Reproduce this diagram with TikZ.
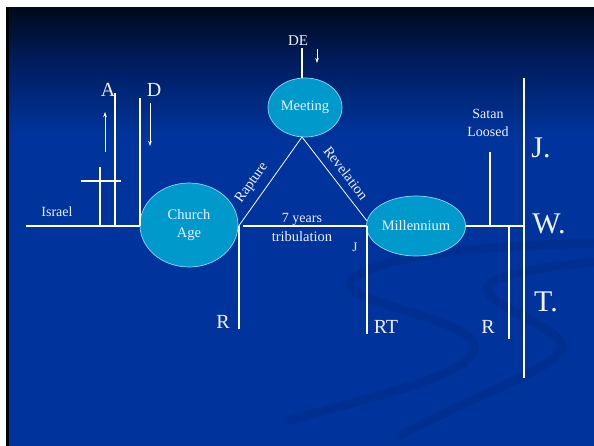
\documentclass[tikz,border=0pt]{standalone}
\usepackage{fontspec}
\setmainfont{Liberation Serif}
\usetikzlibrary{shapes.geometric,arrows.meta}
\definecolor{bgblue}{HTML}{00349C}
\definecolor{bgmid}{HTML}{001C5C}
\definecolor{bgtop}{HTML}{000A1C}
\definecolor{swoosh}{HTML}{002F92}
\definecolor{cyanfill}{HTML}{0099CC}
\definecolor{cyanedge}{HTML}{8FD6F0}
\definecolor{txt}{HTML}{EEF2FF}
\begin{document}
\begin{tikzpicture}[x=1pt,y=-1pt,
  wline/.style={white,line width=1.2pt},
  tline/.style={white,line width=0.8pt},
  warrow/.style={white,line width=0.8pt,-{Stealth[length=5pt,width=3.5pt]}},
  bubble/.style={ellipse,draw=cyanedge,line width=0.7pt,fill=cyanfill,inner sep=0pt,text=txt,font=\fontsize{14.5}{18}\selectfont,align=center},
  lbl/.style={text=txt,inner sep=0pt,font=\fontsize{14.5}{18}\selectfont,align=center},
  big/.style={text=txt,inner sep=0pt,font=\fontsize{20}{22}\selectfont},
  huge/.style={text=txt,inner sep=0pt,font=\fontsize{30}{32}\selectfont}]
\useasboundingbox (0,0) rectangle (594,446);
\fill[white] (0,0) rectangle (594,446);
% background
\shade[top color=bgtop,bottom color=bgmid] (6,8) rectangle (594,60);
\shade[top color=bgmid,bottom color=bgblue] (6,60) rectangle (594,135);
\fill[bgblue] (6,135) rectangle (594,446);
% swooshes
\begin{scope}[swoosh,line width=9pt,line cap=round]
\draw (594,243) .. controls (500,246) and (380,252) .. (352,280)
      .. controls (335,300) and (440,312) .. (470,338)
      .. controls (500,368) and (380,395) .. (290,420);
\draw (594,262) .. controls (540,268) and (480,276) .. (488,292)
      .. controls (495,308) and (560,328) .. (562,346)
      .. controls (565,365) and (480,392) .. (400,436);
\end{scope}
\fill[black] (6,8) rectangle (9,446);
% bubbles
\node[bubble,minimum width=98pt,minimum height=84pt] (church) at (189,225) {Church\\Age};
\node[bubble,minimum width=74pt,minimum height=59pt] (meeting) at (305,107.5) {Meeting};
\node[bubble,minimum width=99pt,minimum height=60pt] (mill) at (416,226) {Millennium};
% coordinates
\coordinate (israelL) at (26,226);
\coordinate (churchL) at (140,226);
\coordinate (churchR) at (243,226);
\coordinate (millL) at (367,226);
\coordinate (millR) at (466,226);
\coordinate (jwtMid) at (524,226);
\coordinate (jwtTop) at (524,78);
\coordinate (jwtBot) at (524,378);
\coordinate (rapBase) at (238,227);
\coordinate (apex) at (302,137);
\coordinate (revBase) at (367,221);
\coordinate (deTop) at (302,48);
\coordinate (deBot) at (302,78.5);
\coordinate (aTop) at (115,93);
\coordinate (aBot) at (115,226);
\coordinate (dTop) at (140,98);
\coordinate (crossTop) at (100,167);
\coordinate (crossBot) at (100,226);
\coordinate (crossL) at (81,181);
\coordinate (crossR) at (121,181);
\coordinate (rBase) at (239,226);
\coordinate (rBot) at (239,329);
\coordinate (rtBot) at (367,334);
\coordinate (satanTop) at (490,152);
\coordinate (satanBot) at (490,226);
\coordinate (r2Top) at (509,226);
\coordinate (r2Bot) at (509,339);
\coordinate (upS) at (105,152);
\coordinate (upE) at (105,112);
\coordinate (dnS) at (150,103);
\coordinate (dnE) at (150,146);
\coordinate (deS) at (317,49);
\coordinate (deE) at (317,63);
% lines
\draw[wline] (israelL) -- (churchL);
\draw[wline] (churchR) -- (millL);
\draw[wline] (millR) -- (jwtMid);
\draw[wline] (jwtTop) -- (jwtBot);
\draw[wline] (deTop) -- (deBot);
\draw[wline] (aTop) -- (aBot);
\draw[wline] (dTop) -- (churchL);
\draw[wline] (crossTop) -- (crossBot);
\draw[wline] (crossL) -- (crossR);
\draw[wline] (rBase) -- (rBot);
\draw[wline] (millL) -- (rtBot);
\draw[wline] (satanTop) -- (satanBot);
\draw[wline] (r2Top) -- (r2Bot);
\draw[tline] (rapBase) -- (apex) -- (revBase);
\draw[warrow] (upS) -- (upE);
\draw[warrow] (dnS) -- (dnE);
\draw[warrow] (deS) -- (deE);
% labels
\node[lbl,font=\fontsize{15}{17}\selectfont] (de) at (298,41) {DE};
\node[big] (a) at (108,90) {A};
\node[big] (d) at (154,90) {D};
\node[lbl,font=\fontsize{14}{16}\selectfont] (israel) at (57,212) {Israel};
\node[lbl,rotate=54.6] (rapture) at (252,183) {Rapture};
\node[lbl,rotate=-52.3] (revelation) at (346,173) {Revelation};
\node[lbl,font=\fontsize{14}{16}\selectfont] (years) at (302,219) {7 years};
\node[lbl] (trib) at (302,237) {tribulation};
\node[lbl,font=\fontsize{13}{16}\selectfont] (j) at (355,247) {J};
\node[lbl,font=\fontsize{14}{18}\selectfont] (satan) at (488,123) {Satan\\Loosed};
\node[huge] (jj) at (541,148) {J.};
\node[huge] (ww) at (549,224) {W.};
\node[huge] (tt) at (546,302) {T.};
\node[big] (r1) at (223,322) {R};
\node[big] (rt) at (386,327) {RT};
\node[big] (r2) at (488,327) {R};
\end{tikzpicture}
\end{document}
